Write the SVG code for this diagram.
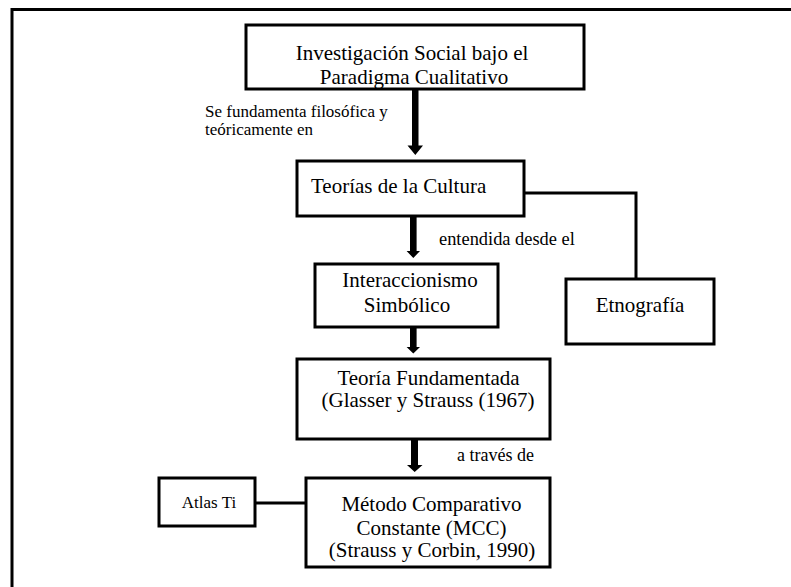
<svg xmlns="http://www.w3.org/2000/svg" width="791" height="587" viewBox="0 0 791 587">
<style>
.box{fill:#fff;stroke:#000;stroke-width:3}
.t{font-family:"Liberation Serif","Times New Roman",serif;font-size:21px;fill:#000;text-anchor:middle}
.tl{font-family:"Liberation Serif","Times New Roman",serif;font-size:21px;fill:#000;text-anchor:start}
.s{font-family:"Liberation Serif","Times New Roman",serif;fill:#000}
.ln{fill:none;stroke:#000;stroke-width:3}
.ar{fill:#000;stroke:none}
</style>
<rect x="0" y="0" width="791" height="587" fill="#fff"/>
<rect x="12" y="9.5" width="800" height="600" fill="none" stroke="#000" stroke-width="3"/>
<g id="connectors">
<path class="ar" d="M412,89 H418.5 V145.5 H423 L415.3,155 L407.5,145.5 H412 Z"/>
<path class="ar" d="M410,216 H416.6 V251 H420 L413.3,258 L406.6,251 H410 Z"/>
<path class="ar" d="M410,327 H416.6 V347 H420 L413.3,353.5 L406.6,347 H410 Z"/>
<path class="ar" d="M411,439 H418 V465 H422.5 L414.7,472 L407,465 H411 Z"/>
<polyline class="ln" points="524,193 636,193 636,279"/>
<line class="ln" x1="255" y1="503" x2="306" y2="503"/>
<text class="s" font-size="17" x="205" y="117">Se fundamenta filosófica y</text>
<text class="s" font-size="17" x="205" y="135">teóricamente en</text>
<text class="s" font-size="18.4" x="439" y="245">entendida desde el</text>
<text class="s" font-size="18" x="457" y="461">a través de</text>
</g>
<g id="n1">
<rect class="box" x="246" y="25" width="338" height="64"/>
<text class="t" x="412" y="60">Investigación Social bajo el</text>
<text class="t" x="414" y="84">Paradigma Cualitativo</text>
</g>
<g id="n2">
<rect class="box" x="297" y="161" width="227" height="55"/>
<text class="tl" x="311" y="193">Teorías de la Cultura</text>
</g>
<g id="n3">
<rect class="box" x="315" y="264" width="183" height="63"/>
<text class="t" x="410" y="287">Interaccionismo</text>
<text class="t" x="407" y="312">Simbólico</text>
</g>
<g id="n4">
<rect class="box" x="566" y="279" width="148" height="65"/>
<text class="t" x="640" y="312">Etnografía</text>
</g>
<g id="n5">
<rect class="box" x="297" y="359" width="253" height="80"/>
<text class="t" x="428.5" y="385">Teoría Fundamentada</text>
<text class="t" x="428" y="407">(Glasser y Strauss (1967)</text>
</g>
<g id="n6">
<rect class="box" x="306" y="478" width="244" height="89"/>
<text class="t" x="431.5" y="511">Método Comparativo</text>
<text class="t" x="431.5" y="535">Constante (MCC)</text>
<text class="t" x="432" y="557">(Strauss y Corbin, 1990)</text>
</g>
<g id="n7">
<rect class="box" x="159" y="478" width="96" height="48"/>
<text class="s" font-size="17" x="209" y="508" text-anchor="middle">Atlas Ti</text>
</g>
</svg>
